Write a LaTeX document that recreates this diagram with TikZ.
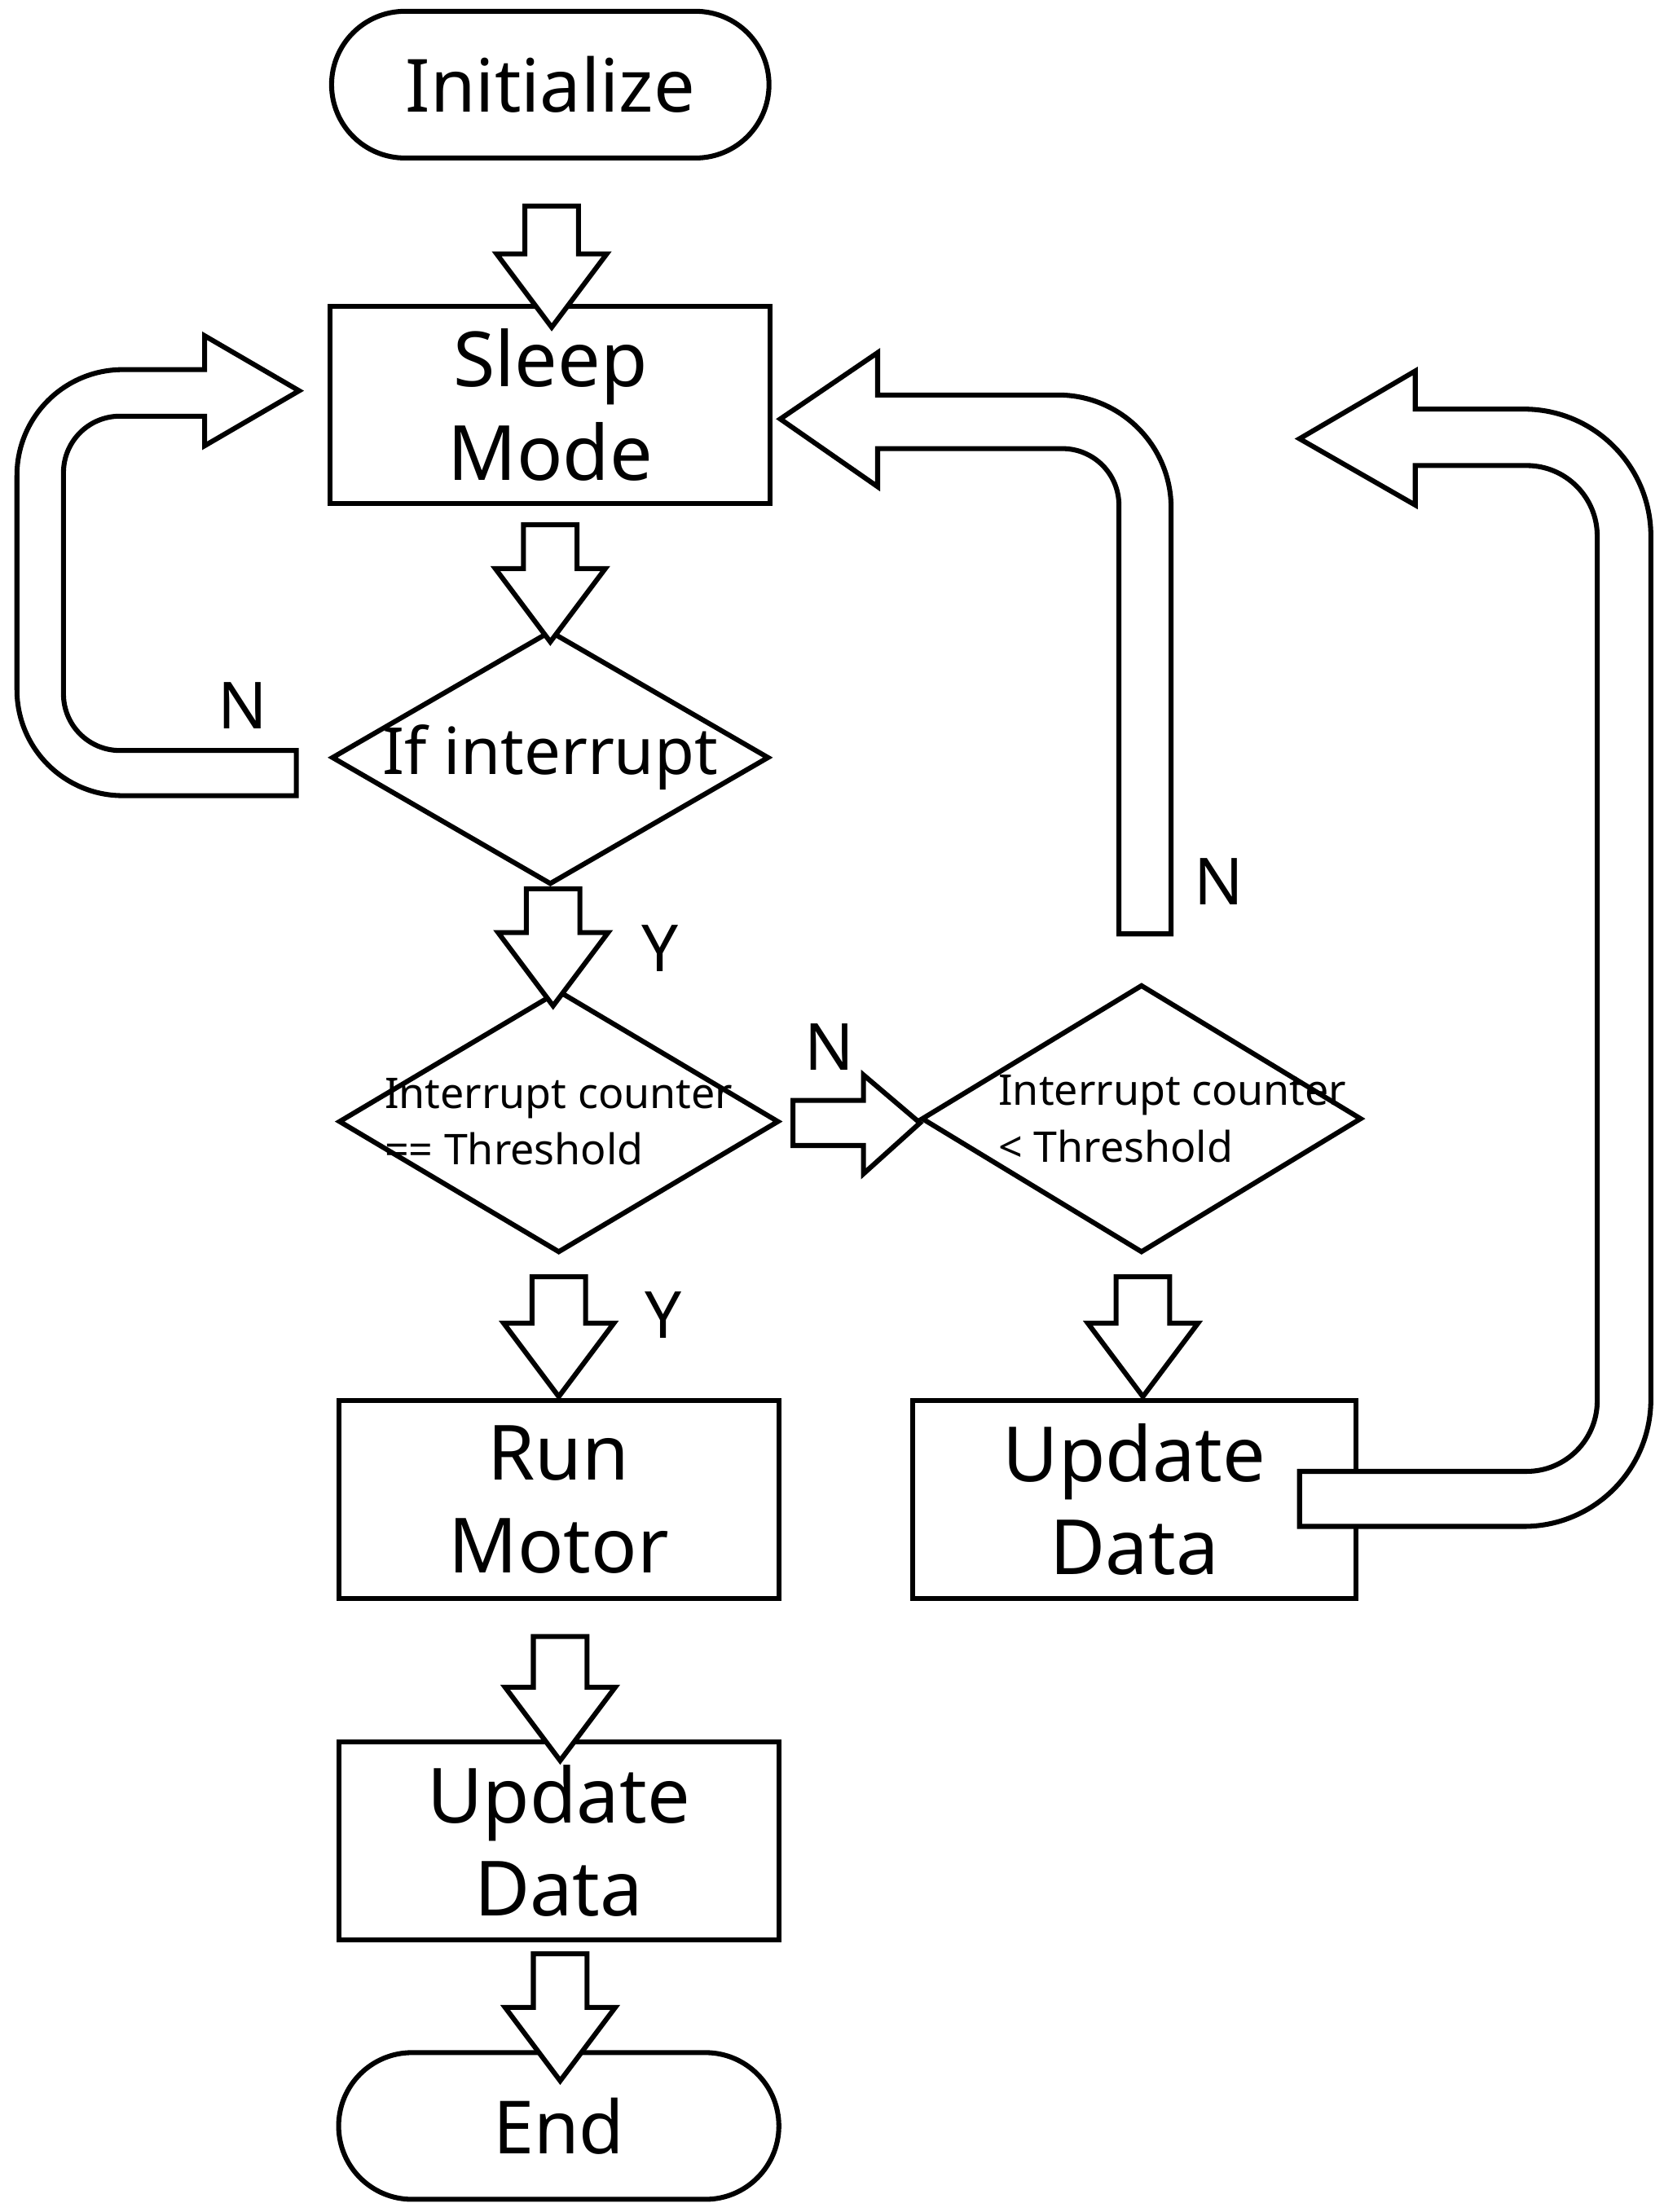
\documentclass[tikz,border=0pt]{standalone}
\usepackage{fontspec}
\setmainfont{Noto Sans}
\usetikzlibrary{shapes.geometric}
\newcommand\varrow[3]{% x center, y top, y tip
  \draw[blk] (#1-19,#2)--(#1+19,#2)--(#1+19,#3-52)--(#1+39,#3-52)--(#1,#3)--(#1-39,#3-52)--(#1-19,#3-52)--cycle;}
\begin{document}
\begin{tikzpicture}[x=1pt,y=-1pt,
  blk/.style={draw,line width=3.5pt,fill=white,line join=miter},
  box/.style={draw,line width=3.5pt,rectangle,minimum width=312pt,minimum height=140pt,align=center,font=\fontsize{54}{66}\selectfont,inner sep=0pt},
  term/.style={draw,line width=3.5pt,rectangle,rounded corners=52pt,minimum width=310pt,minimum height=104pt,font=\fontsize{52}{60}\selectfont},
  dia/.style={draw,line width=3.5pt,diamond,minimum width=312pt,minimum height=184pt,inner sep=0pt},
  lbl/.style={font=\fontsize{46}{50}\selectfont}]
\useasboundingbox (0,0) rectangle (1179,1568);
% nodes
\node[term] (init) at (390,60) {Initialize};
\node[box] (sleep) at (390,287) {Sleep\\Mode};
\node[dia,minimum height=180pt,minimum width=310pt] (d1) at (390,537) {};
\node[font=\fontsize{46}{50}\selectfont] at (d1) {If interrupt};
\node[dia,minimum height=186pt] (d2) at (396,795) {};
\node[font=\fontsize{30}{40}\selectfont,align=left] at (d2) {Interrupt counter\\== Threshold};
\node[dia,minimum height=190pt] (d3) at (809,793) {};
\node[font=\fontsize{30}{40}\selectfont,align=left] at ([xshift=22pt]d3) {Interrupt counter\\< Threshold};
\node[box] (run) at (396,1063) {Run\\Motor};
\node[box,minimum width=314pt] (upd1) at (804,1063) {Update\\Data};
\node[box] (upd2) at (396,1305) {Update\\Data};
\node[term,minimum width=312pt] (end) at (396,1507) {End};
% straight block arrows
\varrow{391}{146}{232}
\varrow{390}{372}{455}
\varrow{392}{630}{713}
\varrow{396}{905}{990}
\varrow{810}{905}{990}
\varrow{397}{1160}{1248}
\varrow{397}{1385}{1475}
\draw[blk] (562,780)--(612,780)--(612,762)--(652,796)--(612,832)--(612,812)--(562,812)--cycle;
% loops
\draw[blk] (210,564)[rounded corners=75pt]--(12,564)--(12,262)[sharp corners]--(145,262)--(145,238)--(212,277)--(145,316)--(145,295)[rounded corners=40pt]--(45,295)--(45,532)[sharp corners]--(210,532)--cycle;
\draw[blk] (830,662)[rounded corners=80pt]--(830,280)[sharp corners]--(622,280)--(622,250)--(553,297)--(622,345)--(622,318)[rounded corners=40pt]--(793,318)[sharp corners]--(793,662)--cycle;
\draw[blk] (921,1082)[rounded corners=90pt]--(1170,1082)--(1170,290)[sharp corners]--(1003,290)--(1003,263)--(921,311)--(1003,358)--(1003,330)[rounded corners=50pt]--(1132,330)--(1132,1043)[sharp corners]--(921,1043)--cycle;
% labels
\node[lbl] at (172,500) {N};
\node[lbl] at (864,625) {N};
\node[lbl] at (468,672) {Y};
\node[lbl] at (588,742) {N};
\node[lbl] at (470,932) {Y};
\end{tikzpicture}
\end{document}
